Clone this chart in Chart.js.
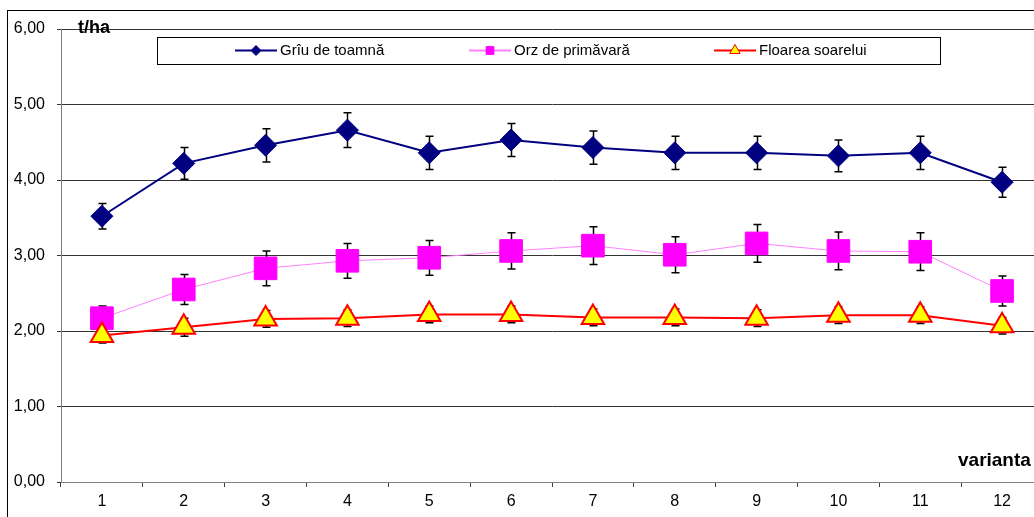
<!DOCTYPE html>
<html>
<head>
<meta charset="utf-8">
<script src="https://cdn.jsdelivr.net/npm/chart.js@4/dist/chart.umd.min.js"></script>
<style>
  html, body { margin: 0; padding: 0; background: #fff; overflow: hidden; }
  #wrap { width: 1060px; height: 517px; }
</style>
</head>
<body>
<div id="wrap"><canvas id="yieldChart" width="1060" height="517"></canvas></div>
<script>
// ---------- DATA ----------
const categories = ['1', '2', '3', '4', '5', '6', '7', '8', '9', '10', '11', '12'];

const wheatLabel = 'Grîu de toamnă';
const wheatValues = [3.52, 4.22, 4.46, 4.66, 4.36, 4.53, 4.43, 4.36, 4.36, 4.32, 4.36, 3.97];
const wheatErrors = [0.17, 0.21, 0.22, 0.23, 0.22, 0.22, 0.22, 0.22, 0.22, 0.21, 0.22, 0.20];

const barleyLabel = 'Orz de primăvară';
const barleyValues = [2.17, 2.55, 2.83, 2.93, 2.97, 3.06, 3.13, 3.01, 3.16, 3.06, 3.05, 2.53];
const barleyErrors = [0.16, 0.20, 0.23, 0.23, 0.23, 0.24, 0.25, 0.24, 0.25, 0.25, 0.25, 0.20];

const sunflowerLabel = 'Floarea soarelui';
const sunflowerValues = [1.94, 2.05, 2.16, 2.17, 2.22, 2.22, 2.18, 2.18, 2.17, 2.21, 2.21, 2.07];
const sunflowerErrors = [0.10, 0.12, 0.11, 0.11, 0.11, 0.11, 0.11, 0.11, 0.11, 0.11, 0.11, 0.11];

const yTickLabels = ['0,00', '1,00', '2,00', '3,00', '4,00', '5,00', '6,00'];
const yUnit = 't/ha';
const xTitle = 'varianta';

const FONT = '"Liberation Sans", Arial, sans-serif';

// ---------- PLUGINS ----------
// error bars (drawn under the markers)
const errorBars = {
    id: 'errorBars',
    beforeDatasetsDraw(chart) {
        const ctx = chart.ctx;
        const y = chart.scales.y;
        ctx.save();
        ctx.strokeStyle = '#000';
        ctx.lineWidth = 1.5;
        chart.data.datasets.forEach((ds, i) => {
            const meta = chart.getDatasetMeta(i);
            meta.data.forEach((pt, j) => {
                const err = ds.errors[j];
                const top = y.getPixelForValue(ds.data[j] + err);
                const bot = y.getPixelForValue(ds.data[j] - err);
                const x = Math.round(pt.x) + 0.5;
                ctx.beginPath();
                ctx.moveTo(x, top);
                ctx.lineTo(x, bot);
                ctx.moveTo(x - 4, top);
                ctx.lineTo(x + 4, top);
                ctx.moveTo(x - 4, bot);
                ctx.lineTo(x + 4, bot);
                ctx.stroke();
            });
        });
        ctx.restore();
    }
};

// frame, unit labels and boxed legend
const decorations = {
    id: 'decorations',
    afterDraw(chart) {
        const ctx = chart.ctx;
        ctx.save();

        // outer frame
        ctx.strokeStyle = '#000';
        ctx.lineWidth = 1;
        ctx.strokeRect(7.5, 10.5, 3000, 3000);

        // axis titles
        ctx.fillStyle = '#000';
        ctx.textBaseline = 'middle';
        ctx.textAlign = 'left';
        ctx.font = 'bold 18px ' + FONT;
        ctx.fillText(yUnit, 78, 28);
        ctx.font = 'bold 19px ' + FONT;
        ctx.fillText(xTitle, 958, 461);

        // legend box
        ctx.fillStyle = '#fff';
        ctx.fillRect(157.5, 37.5, 783, 27);
        ctx.strokeStyle = '#000';
        ctx.strokeRect(157.5, 37.5, 783, 27);

        const legendX = [235, 469, 714];
        const legendSizes = [5, 5.5, 6];
        ctx.font = '15px ' + FONT;
        chart.data.datasets.forEach((ds, i) => {
            const x0 = legendX[i];
            const ly = 50.5;
            ctx.strokeStyle = ds.borderColor;
            ctx.lineWidth = 2;
            ctx.beginPath();
            ctx.moveTo(x0, ly);
            ctx.lineTo(x0 + 42, ly);
            ctx.stroke();
            ctx.fillStyle = ds.pointBackgroundColor;
            ctx.strokeStyle = ds.pointBorderColor;
            ctx.lineWidth = 1;
            Chart.helpers.drawPoint(ctx, {
                pointStyle: ds.pointStyle,
                radius: legendSizes[i],
                rotation: 0,
                borderWidth: 1
            }, x0 + 21, ly);
            ctx.fillStyle = '#000';
            ctx.textAlign = 'left';
            ctx.textBaseline = 'middle';
            ctx.fillText(ds.label, x0 + 45, ly);
        });

        ctx.restore();
    }
};

// ---------- CHART ----------
const chart = new Chart(document.getElementById('yieldChart'), {
    type: 'line',
    data: {
        labels: categories,
        datasets: [
            {
                label: wheatLabel,
                data: wheatValues,
                errors: wheatErrors,
                order: 2,
                borderColor: '#000080',
                borderWidth: 2,
                pointStyle: 'rectRot',
                pointRadius: 11,
                pointBackgroundColor: '#000080',
                pointBorderColor: '#000080',
                pointBorderWidth: 1,
                tension: 0
            },
            {
                label: barleyLabel,
                data: barleyValues,
                errors: barleyErrors,
                order: 1,
                borderColor: '#FF80FF',
                borderWidth: 1,
                pointStyle: 'rect',
                pointRadius: 16,
                pointBackgroundColor: '#FF00FF',
                pointBorderColor: '#FF00FF',
                pointBorderWidth: 1,
                tension: 0
            },
            {
                label: sunflowerLabel,
                data: sunflowerValues,
                errors: sunflowerErrors,
                order: 0,
                borderColor: '#FF0000',
                borderWidth: 2,
                pointStyle: 'triangle',
                pointRadius: 13,
                pointBackgroundColor: '#FFFF00',
                pointBorderColor: '#FF0000',
                pointBorderWidth: 2,
                tension: 0
            }
        ]
    },
    options: {
        responsive: false,
        animation: false,
        devicePixelRatio: 1,
        layout: { padding: { left: 0, top: 29, right: 17, bottom: 0 } },
        plugins: {
            legend: { display: false },
            tooltip: { enabled: false }
        },
        scales: {
            x: {
                offset: true,
                grid: {
                    offset: true,
                    drawOnChartArea: false,
                    drawTicks: true,
                    tickLength: 5,
                    color: '#404040'
                },
                border: { display: true, color: '#808080', width: 1 },
                ticks: {
                    color: '#000',
                    font: { family: FONT, size: 16 },
                    padding: 5,
                    maxRotation: 0
                },
                afterFit(scale) { scale.height = 35; }
            },
            y: {
                min: 0,
                max: 6,
                grid: {
                    color: '#333333',
                    lineWidth: 1,
                    drawTicks: true,
                    tickLength: 4
                },
                border: { display: true, color: '#808080', width: 1 },
                ticks: {
                    stepSize: 1,
                    color: '#000',
                    font: { family: FONT, size: 16 },
                    padding: 12,
                    callback: (v) => yTickLabels[v]
                },
                afterFit(scale) { scale.width = 61; }
            }
        }
    },
    plugins: [errorBars, decorations]
});
</script>
</body>
</html>
